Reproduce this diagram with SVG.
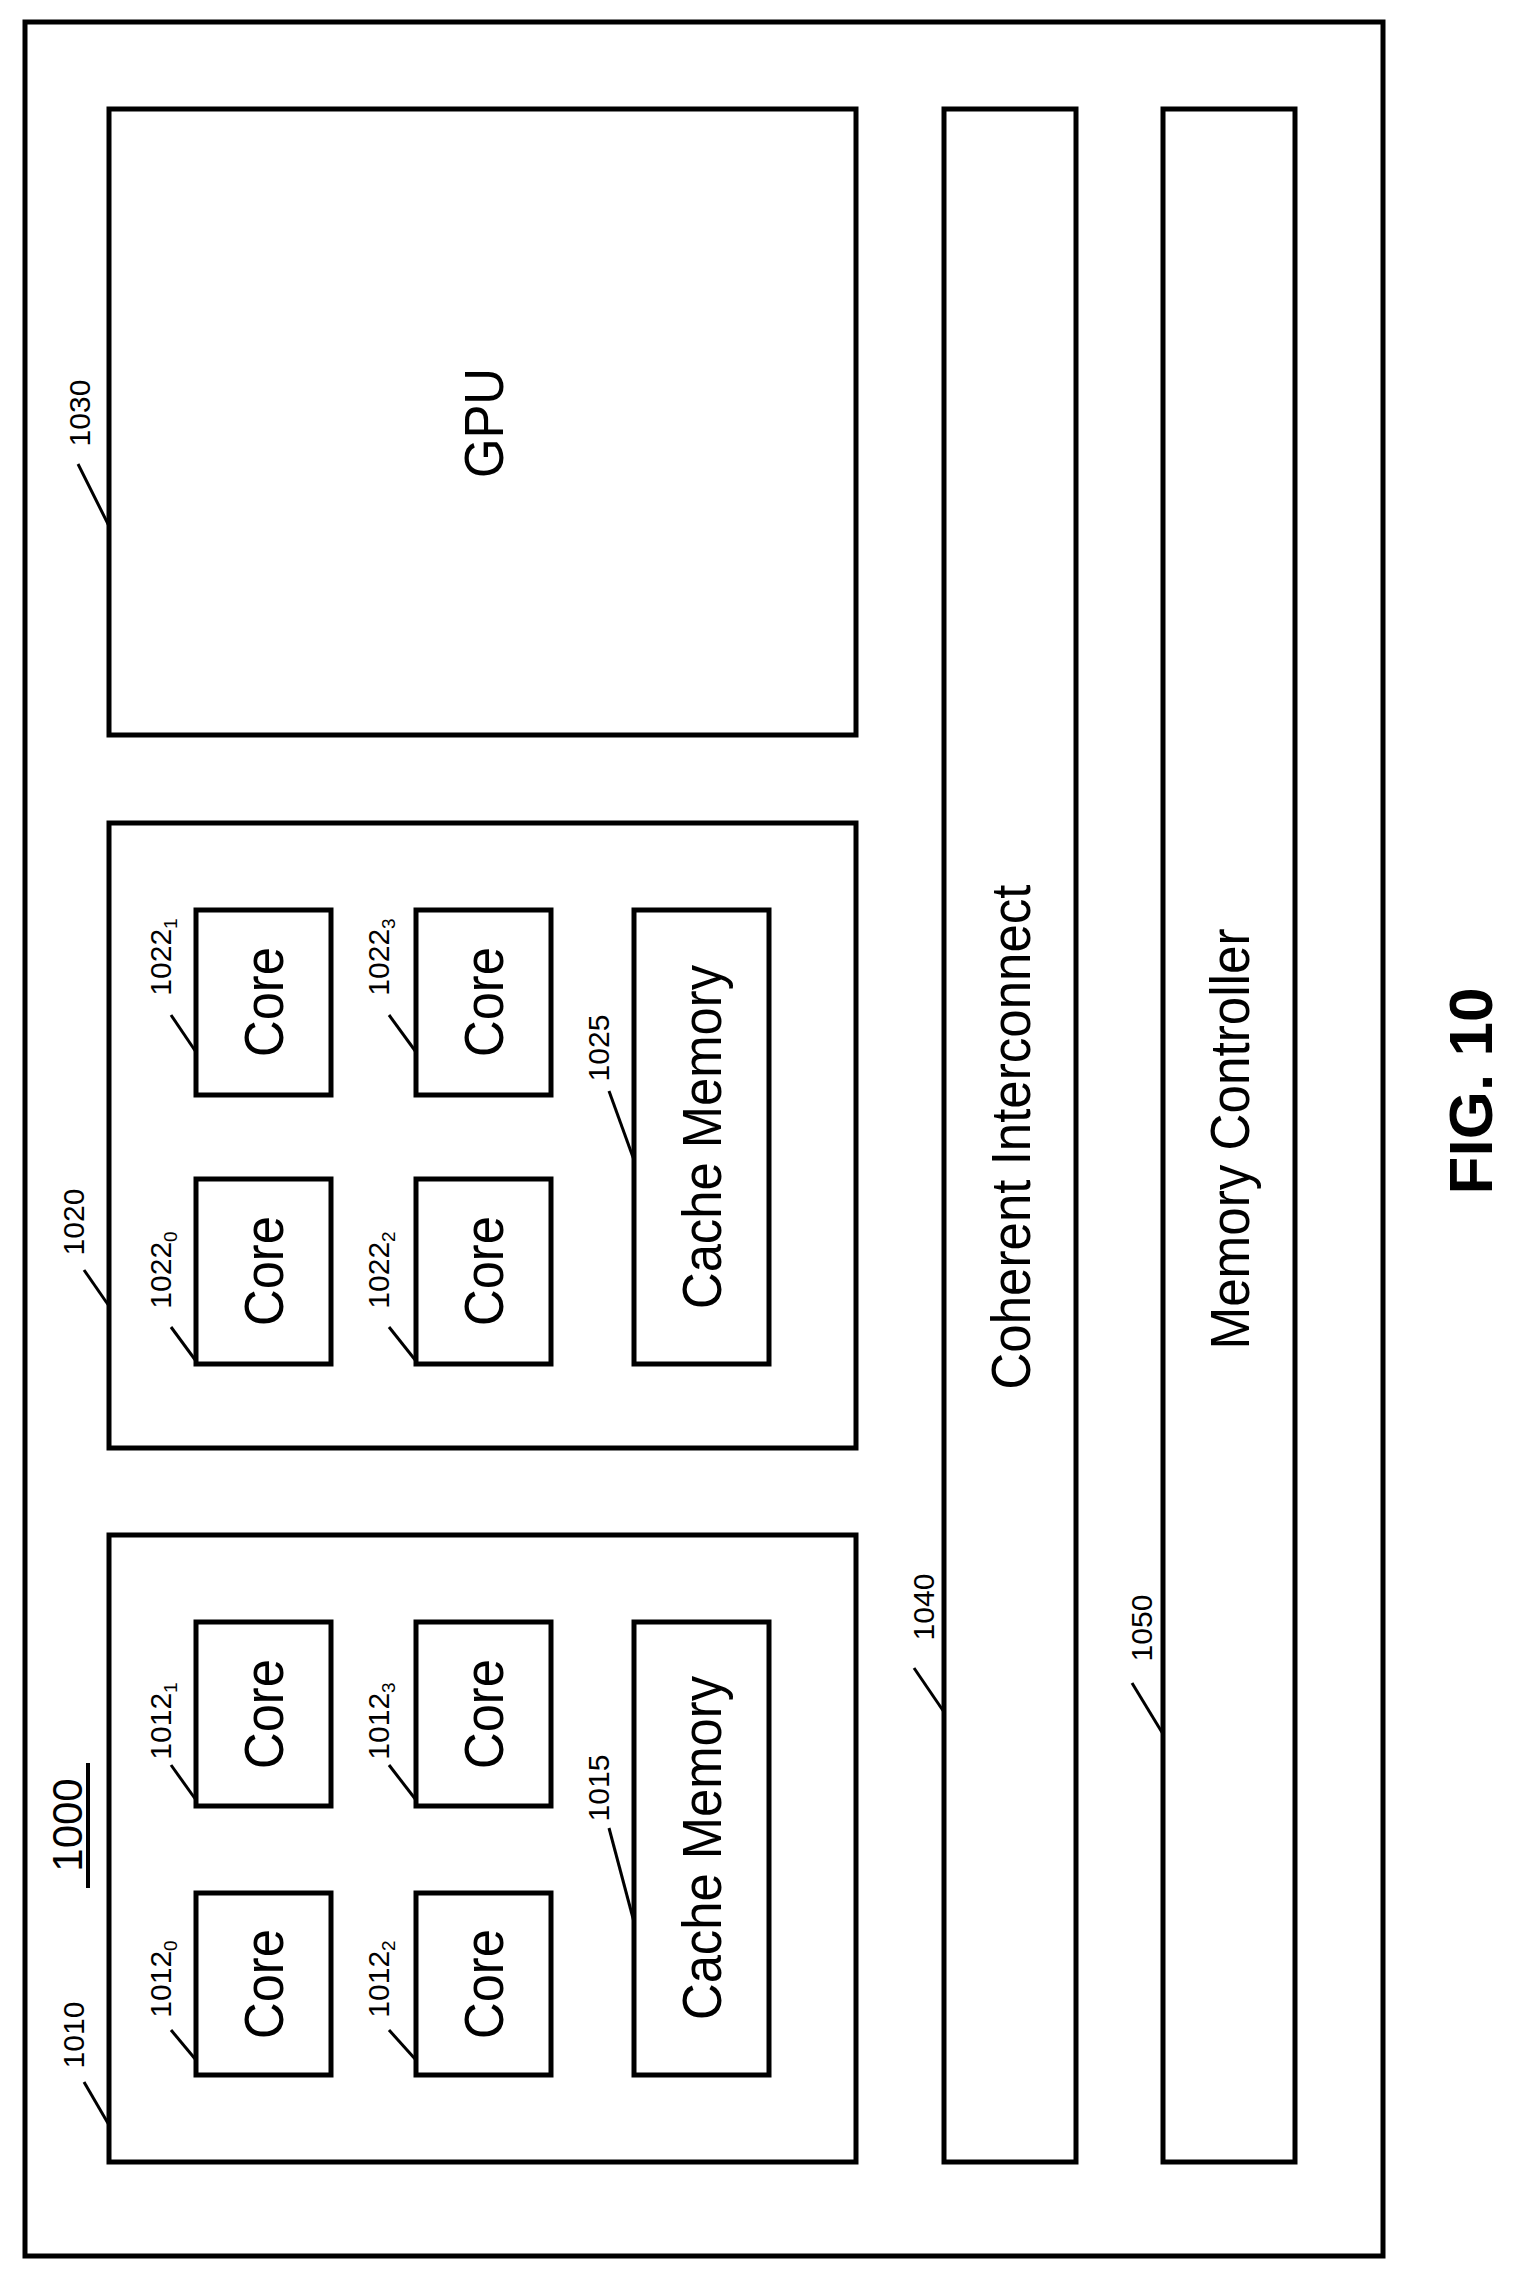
<svg xmlns="http://www.w3.org/2000/svg" width="1516" height="2274" viewBox="0 0 1516 2274">
<style>
.b{fill:#fff;stroke:#000;stroke-width:5}
.t{font-family:"Liberation Sans",Arial,sans-serif;text-anchor:middle;dominant-baseline:central;fill:#000}
.big{font-size:56px}
.lab{font-family:"Liberation Sans",Arial,sans-serif;font-size:30px;text-anchor:middle;fill:#000}
.sub{font-size:19px}
.ld{stroke:#000;stroke-width:3;fill:none}
</style>
<rect width="1516" height="2274" fill="#fff"/>
<g id="n1000"><rect class="b" x="25" y="22" width="1358" height="2234"/>
<text class="lab" transform="translate(82,1825) rotate(-90)" style="font-size:42px">1000</text>
<line x1="88" y1="1763" x2="88" y2="1888" stroke="#000" stroke-width="4"/></g>
<g id="n1030"><rect class="b" x="109" y="109" width="747" height="626"/>
<text class="t big" transform="translate(483,423) rotate(-90)" textLength="110" lengthAdjust="spacingAndGlyphs">GPU</text>
<text class="lab" transform="translate(90,413) rotate(-90)">1030</text></g>
<g id="n1040"><rect class="b" x="944" y="109" width="132" height="2053"/>
<text class="t big" transform="translate(1010,1137) rotate(-90)" textLength="505" lengthAdjust="spacingAndGlyphs">Coherent Interconnect</text>
<text class="lab" transform="translate(934,1607) rotate(-90)">1040</text></g>
<g id="n1050"><rect class="b" x="1163" y="109" width="132" height="2053"/>
<text class="t big" transform="translate(1229,1139) rotate(-90)" textLength="421" lengthAdjust="spacingAndGlyphs">Memory Controller</text>
<text class="lab" transform="translate(1152,1628) rotate(-90)">1050</text></g>
<g id="n1020"><rect class="b" x="109" y="823" width="747" height="625"/>
<text class="lab" transform="translate(84,1222) rotate(-90)">1020</text></g>
<g id="n1010"><rect class="b" x="109" y="1535" width="747" height="627"/>
<text class="lab" transform="translate(84,2035) rotate(-90)">1010</text></g>
<g id="c10120"><rect class="b" x="196" y="1893" width="135" height="182"/><text class="t big" transform="translate(263,1984) rotate(-90)" textLength="110" lengthAdjust="spacingAndGlyphs">Core</text>
<text class="lab" transform="translate(171,1979) rotate(-90)">1012<tspan class="sub" dy="6">0</tspan></text></g>
<g id="c10121"><rect class="b" x="196" y="1622" width="135" height="184"/><text class="t big" transform="translate(263,1714) rotate(-90)" textLength="110" lengthAdjust="spacingAndGlyphs">Core</text>
<text class="lab" transform="translate(171,1721) rotate(-90)">1012<tspan class="sub" dy="6">1</tspan></text></g>
<g id="c10122"><rect class="b" x="416" y="1893" width="135" height="182"/><text class="t big" transform="translate(483,1984) rotate(-90)" textLength="110" lengthAdjust="spacingAndGlyphs">Core</text>
<text class="lab" transform="translate(389,1979) rotate(-90)">1012<tspan class="sub" dy="6">2</tspan></text></g>
<g id="c10123"><rect class="b" x="416" y="1622" width="135" height="184"/><text class="t big" transform="translate(483,1714) rotate(-90)" textLength="110" lengthAdjust="spacingAndGlyphs">Core</text>
<text class="lab" transform="translate(389,1721) rotate(-90)">1012<tspan class="sub" dy="6">3</tspan></text></g>
<g id="m1015"><rect class="b" x="634" y="1622" width="135" height="453"/><text class="t big" transform="translate(701,1848) rotate(-90)" textLength="344" lengthAdjust="spacingAndGlyphs">Cache Memory</text>
<text class="lab" transform="translate(609,1788) rotate(-90)">1015</text></g>
<g id="c10220"><rect class="b" x="196" y="1179" width="135" height="185"/><text class="t big" transform="translate(263,1271) rotate(-90)" textLength="110" lengthAdjust="spacingAndGlyphs">Core</text>
<text class="lab" transform="translate(171,1270) rotate(-90)">1022<tspan class="sub" dy="6">0</tspan></text></g>
<g id="c10221"><rect class="b" x="196" y="910" width="135" height="185"/><text class="t big" transform="translate(263,1002) rotate(-90)" textLength="110" lengthAdjust="spacingAndGlyphs">Core</text>
<text class="lab" transform="translate(171,957) rotate(-90)">1022<tspan class="sub" dy="6">1</tspan></text></g>
<g id="c10222"><rect class="b" x="416" y="1179" width="135" height="185"/><text class="t big" transform="translate(483,1271) rotate(-90)" textLength="110" lengthAdjust="spacingAndGlyphs">Core</text>
<text class="lab" transform="translate(389,1270) rotate(-90)">1022<tspan class="sub" dy="6">2</tspan></text></g>
<g id="c10223"><rect class="b" x="416" y="910" width="135" height="185"/><text class="t big" transform="translate(483,1002) rotate(-90)" textLength="110" lengthAdjust="spacingAndGlyphs">Core</text>
<text class="lab" transform="translate(389,957) rotate(-90)">1022<tspan class="sub" dy="6">3</tspan></text></g>
<g id="m1025"><rect class="b" x="634" y="910" width="135" height="454"/><text class="t big" transform="translate(701,1137) rotate(-90)" textLength="344" lengthAdjust="spacingAndGlyphs">Cache Memory</text>
<text class="lab" transform="translate(609,1048) rotate(-90)">1025</text></g>
<g id="connectors">
<line class="ld" x1="84" y1="2082" x2="109" y2="2125"/>
<line class="ld" x1="84" y1="1270" x2="109" y2="1306"/>
<line class="ld" x1="78" y1="464" x2="109" y2="526"/>
<line class="ld" x1="914" y1="1668" x2="944" y2="1712"/>
<line class="ld" x1="1132" y1="1683" x2="1163" y2="1734"/>
<line class="ld" x1="171" y1="2030" x2="196" y2="2060"/>
<line class="ld" x1="171" y1="1765" x2="196" y2="1800"/>
<line class="ld" x1="389" y1="2030" x2="416" y2="2060"/>
<line class="ld" x1="389" y1="1765" x2="416" y2="1800"/>
<line class="ld" x1="609" y1="1828" x2="634" y2="1922"/>
<line class="ld" x1="171" y1="1327" x2="196" y2="1361"/>
<line class="ld" x1="171" y1="1015" x2="196" y2="1052"/>
<line class="ld" x1="389" y1="1327" x2="416" y2="1361"/>
<line class="ld" x1="389" y1="1015" x2="416" y2="1052"/>
<line class="ld" x1="609" y1="1091" x2="634" y2="1160"/>
</g>
<text class="t" transform="translate(1470,1091) rotate(-90)" style="font-size:62px;font-weight:bold">FIG. 10</text>
</svg>
